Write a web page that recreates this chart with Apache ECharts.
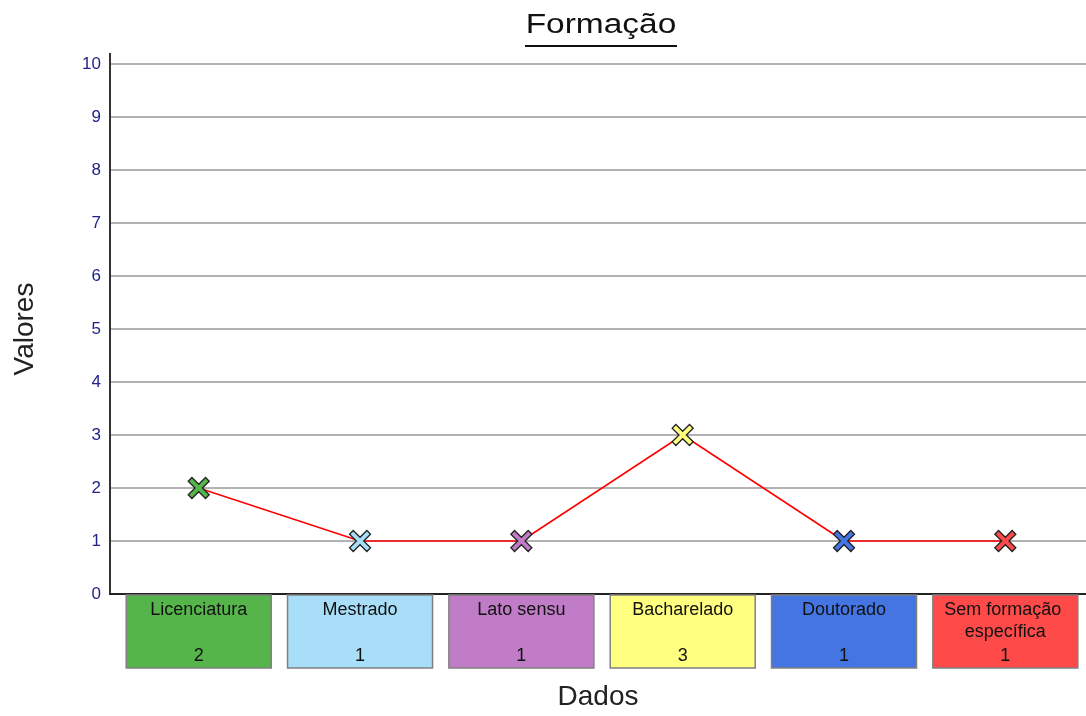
<!DOCTYPE html>
<html>
<head>
<meta charset="utf-8">
<script src="https://cdn.jsdelivr.net/npm/echarts@6/dist/echarts.min.js"></script>
<style>
html,body{margin:0;padding:0;background:#fff;}
#chart{width:1086px;height:716px;}
</style>
</head>
<body>
<div id="chart"></div>
<script>
var categories = ['Licenciatura', 'Mestrado', 'Lato sensu', 'Bacharelado', 'Doutorado', 'Sem formação específica'];
var values = [2, 1, 1, 3, 1, 1];
var colors = ['#55B54B', '#A8DEF8', '#C07CC6', '#FFFF80', '#4475E2', '#FF4A4A'];
var yTicks = [0, 1, 2, 3, 4, 5, 6, 7, 8, 9, 10];

var FONT = 'Liberation Sans, Arial, sans-serif';
var chart = echarts.init(document.getElementById('chart'));

var xPath = 'path://M3.5,0 L10,6.5 L16.5,0 L20,3.5 L13.5,10 L20,16.5 L16.5,20 L10,13.5 L3.5,20 L0,16.5 L6.5,10 L0,3.5 Z';

var lineData = values.map(function (v, i) {
  return { value: [i, v], itemStyle: { color: colors[i] } };
});
var boxData = categories.map(function (c, i) { return [i, 0]; });

var option = {
  animation: false,
  backgroundColor: '#fff',
  grid: { left: 110, right: 0, top: 64, bottom: 121 },
  xAxis: {
    type: 'value', min: -0.55, max: 5.5,
    name: 'Dados', nameLocation: 'middle', nameGap: 89,
    nameTextStyle: { fontFamily: FONT, fontSize: 28, color: '#222' },
    axisLine: { show: true, onZero: false, lineStyle: { color: '#222', width: 2 } },
    axisTick: { show: false }, axisLabel: { show: false }, splitLine: { show: false }
  },
  yAxis: {
    type: 'value', min: 0, max: 10, interval: 1,
    name: 'Valores', nameLocation: 'middle', nameGap: 71, nameRotate: 90,
    nameTextStyle: { fontFamily: FONT, fontSize: 28, color: '#222' },
    axisLine: { show: true, onZero: false, lineStyle: { color: '#333', width: 2 } },
    axisTick: { show: false },
    axisLabel: { fontFamily: FONT, fontSize: 17, color: '#22228C', margin: 9,
      customValues: yTicks, padding: [2, 0, 0, 0] },
    splitLine: { show: true, lineStyle: { color: '#999', width: 1.5 } }
  },
  series: [
    {
      type: 'custom',
      clip: false,
      silent: true,
      data: boxData,
      z: 1,
      renderItem: function (params, api) {
        var i = api.value(0);
        var p = api.coord([i, 0]);
        var w = 145, h = 73;
        var x0 = p[0] - w / 2, y0 = p[1] + 1;
        return {
          type: 'group',
          children: [
            { type: 'rect', shape: { x: x0, y: y0, width: w, height: h },
              style: { fill: colors[i], stroke: '#808080', lineWidth: 1.5 } },
            { type: 'text', x: p[0], y: y0 + 4,
              style: { text: categories[i], fontFamily: FONT, fontSize: 18, fill: '#111',
                align: 'center', verticalAlign: 'top', width: 140, overflow: 'break', lineHeight: 22 } },
            { type: 'text', x: p[0], y: y0 + 50,
              style: { text: String(values[i]), fontFamily: FONT, fontSize: 18, fill: '#111',
                align: 'center', verticalAlign: 'top', lineHeight: 22 } }
          ]
        };
      }
    },
    {
      type: 'line',
      data: lineData,
      z: 5,
      symbol: xPath,
      symbolSize: 21,
      lineStyle: { color: '#FF0000', width: 1.5 },
      itemStyle: { borderColor: '#222', borderWidth: 1.3 }
    }
  ]
};
chart.setOption(option);

var top10 = chart.convertToPixel({ yAxisIndex: 0 }, 10);
var axX = chart.convertToPixel({ xAxisIndex: 0 }, -0.55);
chart.setOption({
  graphic: [
    { type: 'text', x: 601, y: 12, scaleX: 1.24,
      style: { text: 'Formação', fontFamily: FONT, fontSize: 27, fill: '#111', align: 'center', verticalAlign: 'top' } },
    { type: 'line', shape: { x1: 525, y1: 46, x2: 677, y2: 46 },
      style: { stroke: '#111', lineWidth: 2 } },
    { type: 'line', shape: { x1: axX, y1: top10 - 11, x2: axX, y2: top10 },
      style: { stroke: '#333', lineWidth: 2 } }
  ]
});
</script>
</body>
</html>
